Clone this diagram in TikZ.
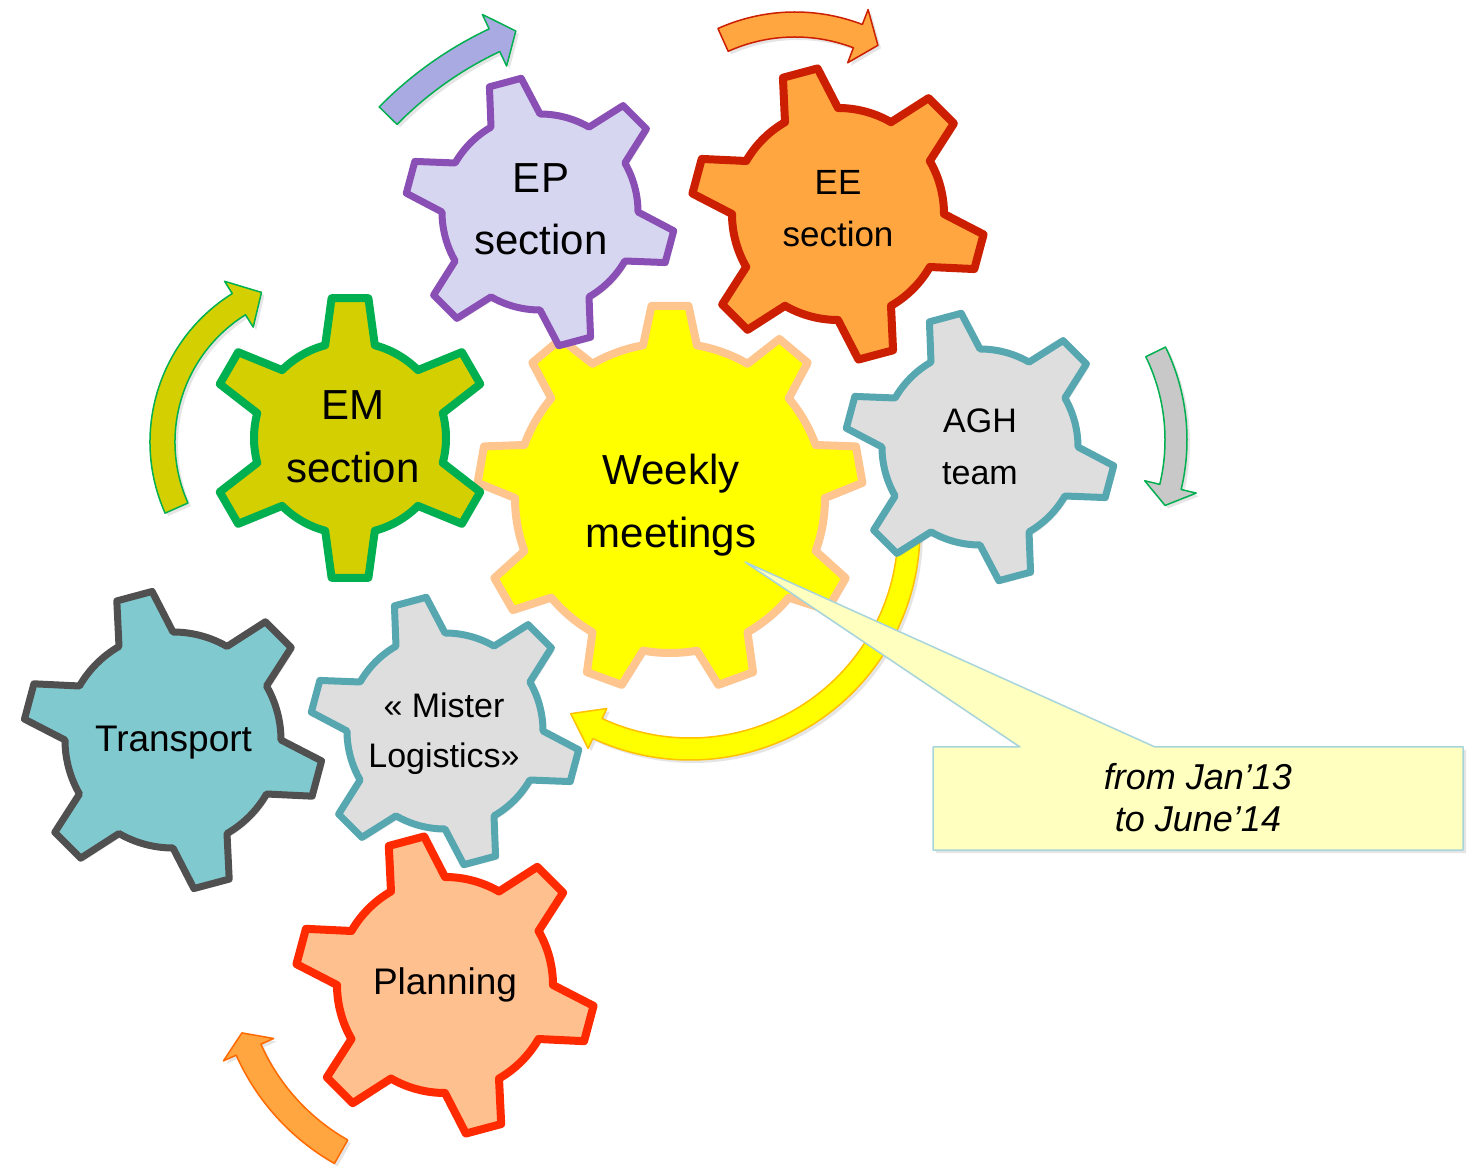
\documentclass[tikz,border=0pt]{standalone}
\usepackage{fontspec}
\setmainfont{Liberation Sans}
\usetikzlibrary{shadows}
\definecolor{cYel}{HTML}{FFFF00}
\definecolor{cPeach}{HTML}{FFC58F}
\definecolor{cLav}{HTML}{D6D6F0}
\definecolor{cPurple}{HTML}{8A4FB5}
\definecolor{cOrange}{HTML}{FFA640}
\definecolor{cRed}{HTML}{CC1E00}
\definecolor{cOlive}{HTML}{D4CF00}
\definecolor{cGreen}{HTML}{00B050}
\definecolor{cGrey}{HTML}{DEDEDE}
\definecolor{cTeal}{HTML}{57A7B1}
\definecolor{cCyan}{HTML}{80C9CF}
\definecolor{cDark}{HTML}{505050}
\definecolor{cSalmon}{HTML}{FFC090}
\definecolor{cRed2}{HTML}{FF2A00}
\definecolor{cArrPurple}{HTML}{AAAAE2}
\definecolor{cArrGrey}{HTML}{C8C8C8}
\definecolor{cGold}{HTML}{FFC000}
\definecolor{cOrLine}{HTML}{FF6A00}
\definecolor{cNote}{HTML}{FFFFC0}
\definecolor{cNoteLine}{HTML}{A8D4DC}

% gear: cx cy n theta0 Router Rbody halfTip halfBase style
\newcommand\gearshape[9]{%
  \draw[#9, shift={(#1,#2)}] ({#4-#8}:#6)
  \foreach \k in {1,...,#3}{
     -- ({#4+(\k-1)*360/#3-#7}:#5) -- ({#4+(\k-1)*360/#3+#7}:#5)
     -- ({#4+(\k-1)*360/#3+#8}:#6)
     arc[start angle={#4+(\k-1)*360/#3+#8}, end angle={#4+\k*360/#3-#8}, radius=#6]
  } -- cycle;}

% curved block arrow: cx cy rmid width headwidth tail base tip style
\newcommand\bendarrow[9]{%
  \draw[#9, shift={(#1,#2)}] ({#6}:{#3+#4/2})
    arc[start angle=#6, end angle=#7, radius={#3+#4/2}]
    -- ({#7}:{#3+#5/2}) -- ({#8}:#3) -- ({#7}:{#3-#5/2}) -- ({#7}:{#3-#4/2})
    arc[start angle=#7, end angle=#6, radius={#3-#4/2}] -- cycle;}

\begin{document}
\begin{tikzpicture}[x=1pt, y=1pt, line join=round,
  shd/.style={drop shadow={opacity=0.2, shadow xshift=3pt, shadow yshift=-3pt}},
  gwm/.style={shd, fill=cYel, draw=cPeach, line width=8pt},
  gep/.style={shd, fill=cLav, draw=cPurple, line width=7pt},
  gee/.style={shd, fill=cOrange, draw=cRed, line width=8pt},
  gem/.style={shd, fill=cOlive, draw=cGreen, line width=8pt},
  gagh/.style={shd, fill=cGrey, draw=cTeal, line width=7pt},
  gtr/.style={shd, fill=cCyan, draw=cDark, line width=7pt},
  gml/.style={shd, fill=cGrey, draw=cTeal, line width=7pt},
  gpl/.style={shd, fill=cSalmon, draw=cRed2, line width=8pt},
  arr/.style={shd, line width=1.5pt},
  lab/.style={align=center, inner sep=0pt, text=black}]

\useasboundingbox (0,0) rectangle (1474,1165);
\fill[white] (0,0) rectangle (1474,1165);

% central gear and its ring arrow
\gearshape{670}{667}{9}{90}{193}{155}{5.5}{10}{gwm}
\bendarrow{690}{635}{219}{22}{44}{360}{245}{237}{arr, fill=cYel, draw=cGold}

% other gears
\gearshape{540}{953}{6}{105}{135}{98}{7}{15}{gep}
\gearshape{838}{951}{6}{105}{147}{106}{7}{15}{gee}
\gearshape{350}{727}{6}{90}{141}{96}{7.5}{15}{gem}
\gearshape{980}{718}{6}{105}{135}{98}{7}{15}{gagh}
\gearshape{173}{425}{6}{105}{150}{108}{7}{15}{gtr}
\gearshape{445}{434}{6}{105}{135}{98}{7}{15}{gml}
\gearshape{445}{180}{6}{105}{150}{108}{7}{15}{gpl}

% rotation arrows
\bendarrow{652}{790}{370}{25}{57}{135.5}{115.2}{111.6}{arr, fill=cArrPurple, draw=cGreen}
\bendarrow{795}{965}{175.5}{25}{57}{114.2}{69}{61.8}{arr, fill=cOrange, draw=cRed}
\bendarrow{325}{723}{162.5}{25}{54}{204}{122}{113}{arr, fill=cOlive, draw=cGreen}
\bendarrow{975}{725}{201}{22}{53}{26}{-13.5}{-19}{arr, fill=cArrGrey, draw=cGreen}
\bendarrow{450}{205}{220.5}{27}{55}{240.4}{204}{199.3}{arr, fill=cOrange, draw=cOrLine}

% labels
\node[lab, font=\fontsize{42}{63}\selectfont] (wm) at (671,659.5) {Weekly\\meetings};
\node[lab, font=\fontsize{42}{62}\selectfont] (ep) at (541,956) {EP\\section};
\node[lab, font=\fontsize{35}{52}\selectfont] (ee) at (838,956.5) {EE\\section};
\node[lab, font=\fontsize{42}{63}\selectfont] (em) at (353,728.5) {EM\\section};
\node[lab, font=\fontsize{34}{52}\selectfont] (agh) at (980,718) {AGH\\team};
\node[lab, font=\fontsize{37}{44}\selectfont] (tr) at (173.5,422.4) {Transport};
\node[lab, font=\fontsize{34}{50}\selectfont] (ml) at (444,431) {« Mister\\Logistics»};
\node[lab, font=\fontsize{37}{44}\selectfont] (pl) at (445,179.6) {Planning};

% callout
\coordinate (tip) at (745,603);
\draw[shd, fill=cNote, draw=cNoteLine, line width=1.5pt]
  (933,418) -- (1020,418) -- (tip) -- (1155,418) -- (1463,418)
  -- (1463,315) -- (933,315) -- cycle;
\node[lab, font=\fontsize{36}{42}\selectfont\itshape] (note) at (1198,367)
  {from Jan’13\\to June’14};
\end{tikzpicture}
\end{document}
